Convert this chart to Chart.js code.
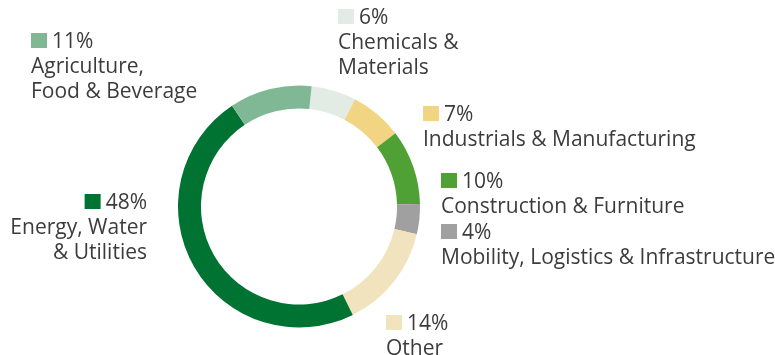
<!DOCTYPE html>
<html>
<head>
<meta charset="utf-8">
<script src="https://cdn.jsdelivr.net/npm/chart.js@4"></script>
<style>
  body { margin: 0; background: #fff; }
  canvas { display: block; }
</style>
</head>
<body>
<canvas id="myChart" width="775" height="355"></canvas>
<script>
// sectors, clockwise from just right of 12 o'clock
const sectors = ['Chemicals & Materials', 'Industrials & Manufacturing', 'Construction & Furniture',
  'Mobility, Logistics & Infrastructure', 'Other', 'Energy, Water & Utilities', 'Agriculture, Food & Beverage'];
const shares = [6, 7, 10, 4, 14, 48, 11];
const colours = ['#e2ece5', '#f1d583', '#4fa035', '#a0a0a0', '#f1e3bd', '#007232', '#80b895'];

// text lines under each percentage
const labelLines = [
  ['Chemicals &', 'Materials'],
  ['Industrials & Manufacturing'],
  ['Construction & Furniture'],
  ['Mobility, Logistics & Infrastructure'],
  ['Other'],
  ['Energy, Water', '& Utilities'],
  ['Agriculture,', 'Food & Beverage']
];

// where each label block sits: x, baseline of the % line, alignment
const labelPos = [
  { x: 338, y: 24, align: 'left' },
  { x: 423, y: 121, align: 'left' },
  { x: 441, y: 188, align: 'left' },
  { x: 441, y: 239, align: 'left' },
  { x: 386, y: 330, align: 'left' },
  { x: 147, y: 209, align: 'right' },
  { x: 31, y: 48, align: 'left' }
];

const FONT = '21px "Open Sans", sans-serif';
const LINE = 25;

const labelPlugin = {
  id: 'sectorLabels',
  afterDraw(chart) {
    const ctx = chart.ctx;
    ctx.save();
    ctx.font = FONT;
    ctx.textBaseline = 'alphabetic';
    shares.forEach(function (v, i) {
      const p = labelPos[i];
      const pct = v + '%';
      const bw = 16, bh = 15, gap = 5;
      const pw = ctx.measureText(pct).width;
      let boxX, pctX;
      if (p.align === 'left') {
        boxX = p.x;
        pctX = p.x + bw + gap;
      } else {
        pctX = p.x - pw;
        boxX = pctX - gap - bw;
      }
      ctx.fillStyle = colours[i];
      ctx.fillRect(boxX, p.y - bh, bw, bh);
      ctx.fillStyle = '#3c3c3c';
      ctx.textAlign = 'left';
      ctx.fillText(pct, pctX, p.y);
      ctx.textAlign = p.align;
      labelLines[i].forEach(function (t, j) {
        ctx.fillText(t, p.x, p.y + LINE * (j + 1));
      });
    });
    ctx.restore();
  }
};

const data = {
  labels: sectors,
  datasets: [{
    data: shares,
    backgroundColor: colours,
    borderWidth: 0
  }]
};

const config = {
  type: 'doughnut',
  data,
  options: {
    responsive: false,
    animation: false,
    rotation: 6,
    cutout: '81%',
    layout: {
      padding: { left: 178, right: 355, top: 85.5, bottom: 27.5 }
    },
    plugins: {
      legend: { display: false },
      tooltip: { enabled: false }
    }
  },
  plugins: [labelPlugin]
};

var myChart = new Chart(document.getElementById('myChart'), config);
</script>
</body>
</html>
